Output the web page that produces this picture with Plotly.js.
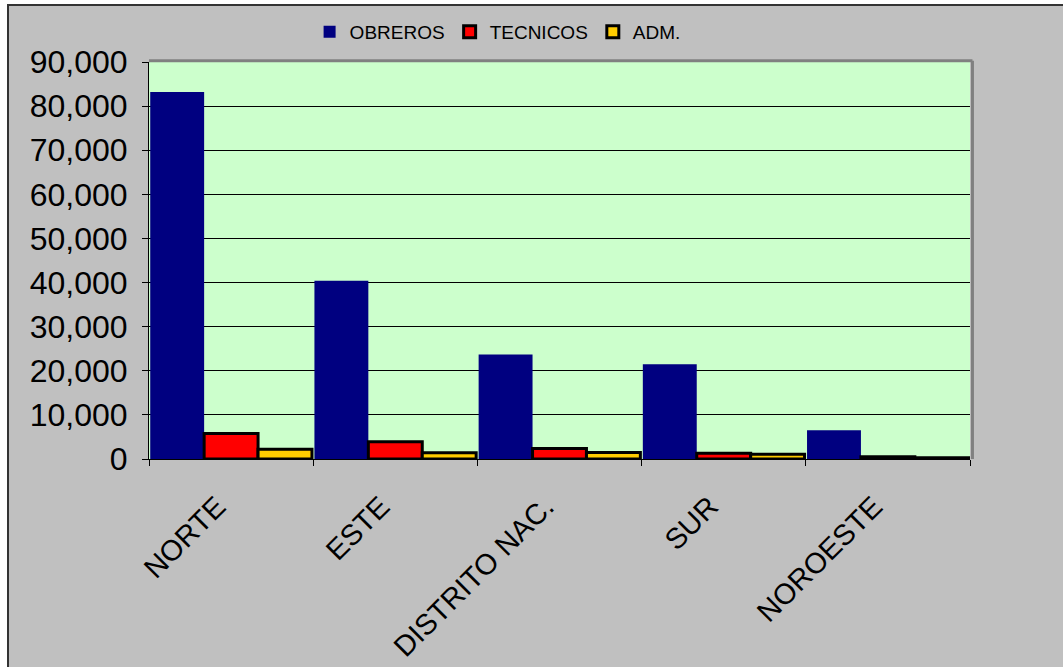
<!DOCTYPE html>
<html>
<head>
<meta charset="utf-8">
<script src="https://cdn.plot.ly/plotly-3.0.1.min.js"></script>
<style>
  html, body { margin: 0; padding: 0; background: #ffffff; width: 1063px; height: 667px; overflow: hidden; }
  #frame { position: absolute; left: 7px; top: 4px; width: 1056px; height: 663px; border-left: 2px solid #333333; border-top: 2px solid #333333; background: #c0c0c0; }
  #chart { width: 1054px; height: 661px; }
</style>
</head>
<body>
<div id="frame"><div id="chart"></div></div>
<script>
var regions = ["NORTE", "ESTE", "DISTRITO NAC.", "SUR", "NOROESTE"];
var obreros = [83200, 40400, 23700, 21500, 6500];
var tecnicos = [5800, 3900, 2400, 1300, 500];
var adm = [2200, 1400, 1500, 1100, 300];

var font = "Arial, 'Liberation Sans', sans-serif";

var traces = [
  { type: "bar", name: "OBREROS", x: regions, y: obreros,
    marker: { color: "#000080", line: { color: "#000080", width: 0 } } },
  { type: "bar", name: "TECNICOS", x: regions, y: tecnicos,
    marker: { color: "#ff0000", line: { color: "#000000", width: 3 } } },
  { type: "bar", name: "ADM.", x: regions, y: adm,
    marker: { color: "#ffcc00", line: { color: "#000000", width: 3 } } }
];

var layout = {
  width: 1054, height: 661,
  margin: { l: 140, r: 93, t: 56, b: 208 },
  paper_bgcolor: "#c0c0c0",
  plot_bgcolor: "#ccffcc",
  barmode: "group",
  bargap: 0.015,
  bargroupgap: 0,
  font: { family: font, color: "#000000" },
  showlegend: true,
  legend: {
    orientation: "h", x: 0.4246, xanchor: "center", y: 0.9894, yref: "container", yanchor: "top",
    font: { family: font, size: 19, color: "#000000" },
    bgcolor: "rgba(0,0,0,0)", traceorder: "normal", itemwidth: 30
  },
  xaxis: {
    type: "category",
    tickangle: -45,
    tickfont: { family: font, size: 29, color: "#000000" },
    ticklabelstandoff: 18,
    ticklabelshift: -14,
    showline: true, linecolor: "#000000", linewidth: 1,
    ticks: "outside", tickson: "boundaries", ticklen: 6, tickcolor: "#000000",
    showgrid: false, fixedrange: true
  },
  yaxis: {
    range: [0, 90000],
    dtick: 10000,
    tickformat: ",d",
    tickfont: { family: font, size: 32, color: "#000000" },
    ticklabelstandoff: 8,
    showline: true, linecolor: "#000000", linewidth: 1,
    ticks: "outside", ticklen: 6, tickcolor: "#000000",
    showgrid: true, gridcolor: "#000000", gridwidth: 1,
    zeroline: false, fixedrange: true
  },
  shapes: [
    { type: "line", xref: "paper", yref: "paper", x0: 0, x1: 1.003, y0: 1.003, y1: 1.003,
      line: { color: "#808080", width: 3 }, layer: "above" },
    { type: "line", xref: "paper", yref: "paper", x0: 1.003, x1: 1.003, y0: 0, y1: 1.003,
      line: { color: "#808080", width: 3 }, layer: "above" }
  ]
};

Plotly.newPlot("chart", traces, layout, { displayModeBar: false, staticPlot: true });
</script>
</body>
</html>
